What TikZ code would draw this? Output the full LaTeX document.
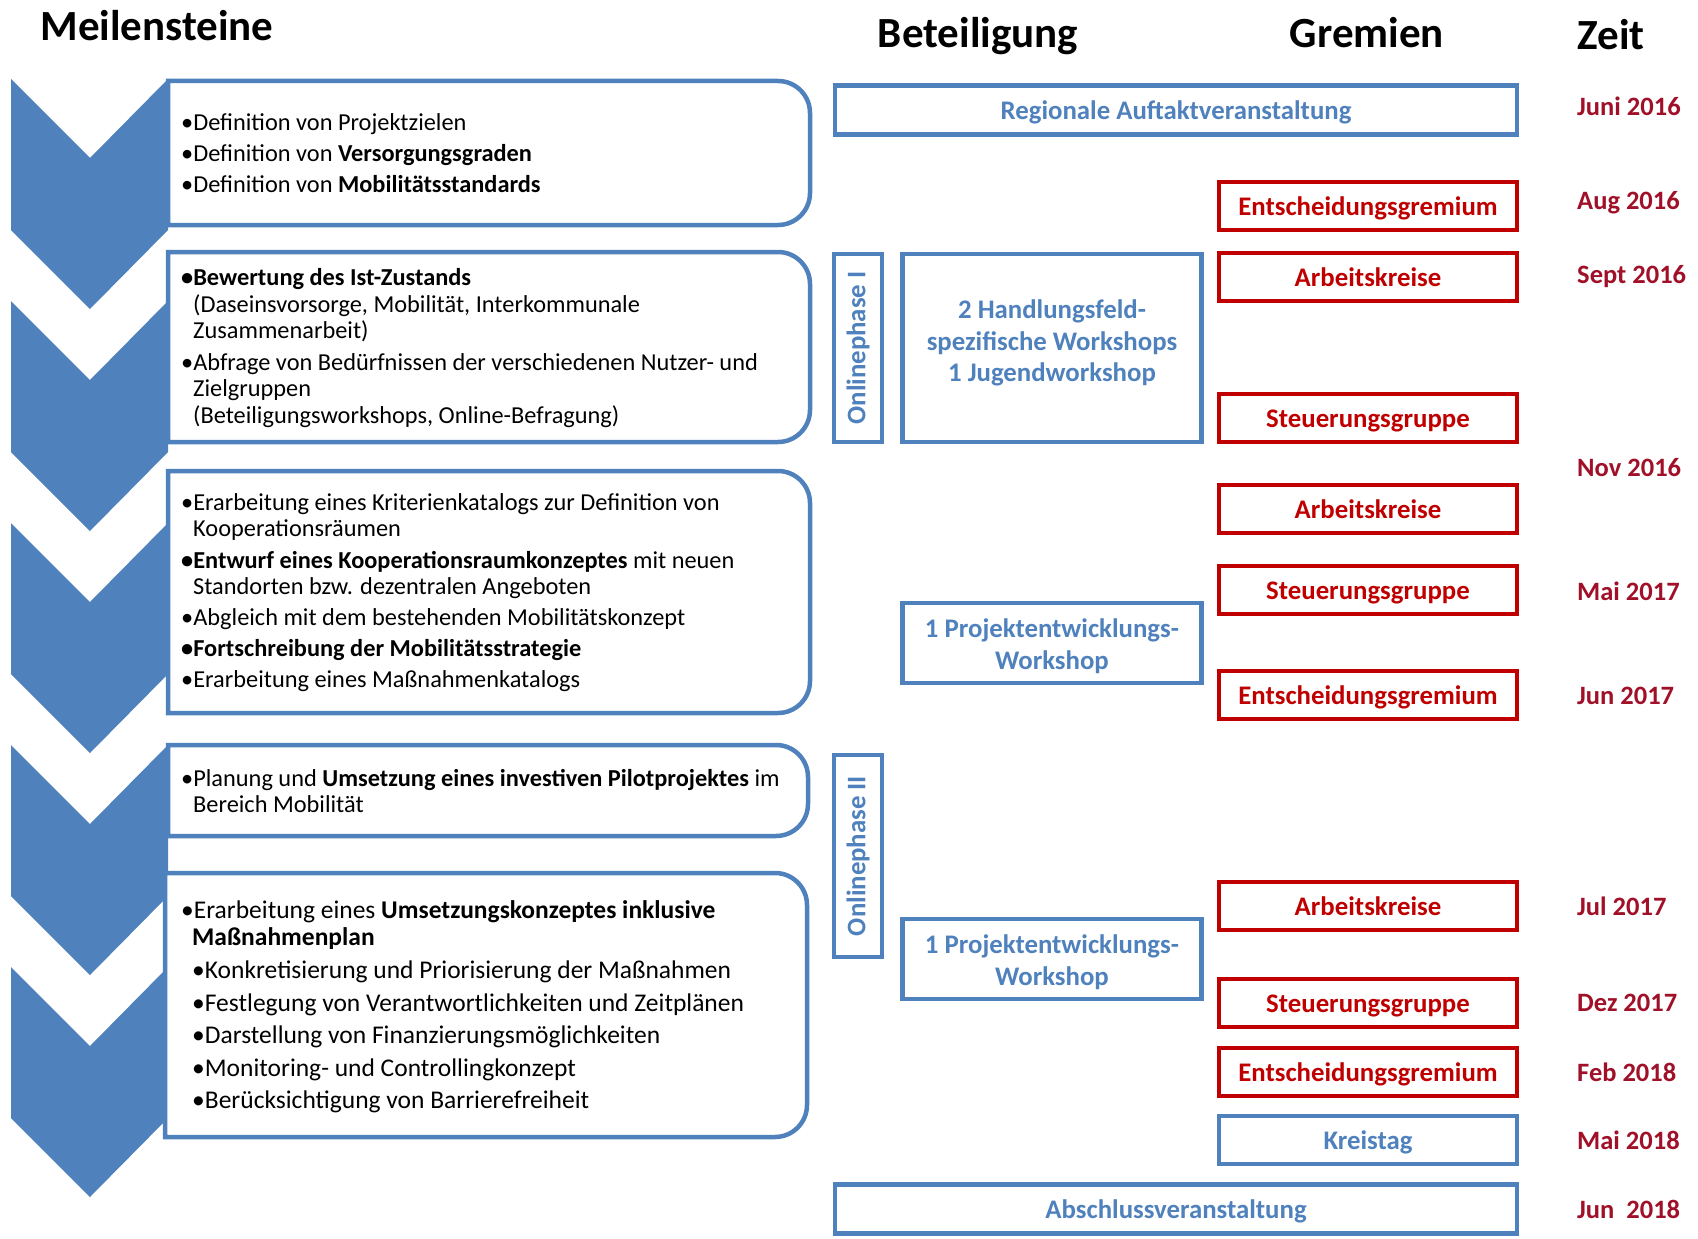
\documentclass[tikz,border=0pt]{standalone}
\usepackage{fontspec}
\setmainfont{Carlito}
\definecolor{cblue}{RGB}{79,129,189}
\definecolor{cred}{RGB}{192,0,0}
\definecolor{cdate}{RGB}{160,16,40}
\begin{document}
\begin{tikzpicture}[x=1pt,y=-1pt,
  head/.style={anchor=base,inner sep=0pt,font=\fontsize{43}{50}\selectfont\bfseries},
  ln/.style={anchor=base west,inner sep=0pt,font=\fontsize{24.35}{26}\selectfont},
  lnb/.style={anchor=base west,inner sep=0pt,font=\fontsize{25.5}{27}\selectfont},
  mbox/.style={draw=cblue,line width=4.5pt,fill=white,inner sep=0pt,align=center,text=cblue,
     font=\fontsize{26.8}{31.8}\selectfont\bfseries},
  one/.style={text height=19.5pt,text depth=0pt},
  mtext/.style={inner sep=0pt,align=center,text=cblue,font=\fontsize{26.8}{31.8}\selectfont\bfseries},
  rbox/.style={mbox,one,draw=cred,text=cred,minimum width=298,minimum height=48},
  kbox/.style={mbox,one,minimum width=298,minimum height=48},
  datum/.style={anchor=west,inner sep=0pt,text=cdate,font=\fontsize{26.5}{31.8}\selectfont\bfseries},
  lbox/.style={draw=cblue,line width=4.5pt,fill=white}
]
\useasboundingbox (0,0) rectangle (1698,1239);
\fill[white] (0,0) rectangle (1698,1239);

% headers
\node[head] (h1) at (157,41) {Meilensteine};
\node[head] (h2) at (978,48) {Beteiligung};
\node[head] (h3) at (1367,48) {Gremien};
\node[head] (h4) at (1611,50) {Zeit};

% chevrons
\foreach \y in {79,301,523,745,967}{
  \fill[cblue] (11,\y) -- (90,\y+79) -- (168,\y) -- (168,\y+151) -- (90,\y+230) -- (11,\y+151) -- cycle;
}

% left boxes
\draw[lbox] (489,81) [rounded corners=32] -- (810,81) -- (810,225) -- (489,225) [sharp corners] -- (168,225) -- (168,81) -- cycle;
\draw[lbox] (489,252) [rounded corners=32] -- (810,252) -- (810,442) -- (489,442) [sharp corners] -- (168,442) -- (168,252) -- cycle;
\draw[lbox] (489,471) [rounded corners=32] -- (810,471) -- (810,713) -- (489,713) [sharp corners] -- (168,713) -- (168,471) -- cycle;
\draw[lbox] (489,745) [rounded corners=32] -- (808,745) -- (808,836) -- (489,836) [sharp corners] -- (168,836) -- (168,745) -- cycle;
\draw[lbox] (489,873) [rounded corners=32] -- (807,873) -- (807,1137) -- (489,1137) [sharp corners] -- (165,1137) -- (165,873) -- cycle;

% box 1 text
\node[ln] (a1) at (181,130) {•Definition von Projektzielen};
\node[ln] (a2) at (181,161) {•Definition von \textbf{Versorgungsgraden}};
\node[ln] (a3) at (181,192) {•Definition von \textbf{Mobilitätsstandards}};
% box 2 text
\node[ln] (b1) at (181,285) {\textbf{•Bewertung des Ist-Zustands}};
\node[ln] (b2) at (193,312) {(Daseinsvorsorge, Mobilität, Interkommunale};
\node[ln] (b3) at (193,338) {Zusammenarbeit)};
\node[ln] (b4) at (181,370) {•Abfrage von Bedürfnissen der verschiedenen Nutzer- und};
\node[ln] (b5) at (193,396) {Zielgruppen};
\node[ln] (b6) at (193,423) {(Beteiligungsworkshops, Online-Befragung)};
% box 3 text
\node[ln] (c1) at (181,510) {•Erarbeitung eines Kriterienkatalogs zur Definition von};
\node[ln] (c2) at (193,536) {Kooperationsräumen};
\node[ln] (c3) at (181,568) {\textbf{•Entwurf eines Kooperationsraumkonzeptes} mit neuen};
\node[ln] (c4) at (193,594) {Standorten bzw. dezentralen Angeboten};
\node[ln] (c5) at (181,625) {•Abgleich mit dem bestehenden Mobilitätskonzept};
\node[ln] (c6) at (181,656) {\textbf{•Fortschreibung der Mobilitätsstrategie}};
\node[ln] (c7) at (181,687) {•Erarbeitung eines Maßnahmenkatalogs};
% box 4 text
\node[ln] (d1) at (181,786) {•Planung und \textbf{Umsetzung eines investiven Pilotprojektes} im};
\node[ln] (d2) at (193,812) {Bereich Mobilität};
% box 5 text
\node[lnb] (e1) at (181,918) {•Erarbeitung eines \textbf{Umsetzungskonzeptes inklusive}};
\node[lnb] (e2) at (192,945) {\textbf{Maßnahmenplan}};
\node[lnb] (e3) at (192,978) {•Konkretisierung und Priorisierung der Maßnahmen};
\node[lnb] (e4) at (192,1011) {•Festlegung von Verantwortlichkeiten und Zeitplänen};
\node[lnb] (e5) at (192,1043) {•Darstellung von Finanzierungsmöglichkeiten};
\node[lnb] (e6) at (192,1076) {•Monitoring- und Controllingkonzept};
\node[lnb] (e7) at (192,1108) {•Berücksichtigung von Barrierefreiheit};

% Beteiligung column
\node[mbox,one,minimum width=682,minimum height=49] (auftakt) at (1176,110) {Regionale Auftaktveranstaltung};
\node[mbox,rotate=90,minimum width=188,minimum height=48] (op1) at (858,348) {Onlinephase I};
\node[mbox,minimum width=299,minimum height=188] (hws) at (1052,348) {};
\node[mtext] (hwst) at (1052,343) {2 Handlungsfeld-\\spezifische Workshops\\1 Jugendworkshop};
\node[mbox,minimum width=299,minimum height=80] (pws1) at (1052,643) {};
\node[mtext] (pws1t) at (1052,646) {1 Projektentwicklungs-\\Workshop};
\node[mbox,rotate=90,minimum width=202,minimum height=48] (op2) at (858,856) {Onlinephase II};
\node[mbox,minimum width=299,minimum height=80] (pws2) at (1052,959) {};
\node[mtext] (pws2t) at (1052,962) {1 Projektentwicklungs-\\Workshop};
\node[mbox,one,minimum width=682,minimum height=49] (abschluss) at (1176,1209) {Abschlussveranstaltung};

% Gremien column
\node[rbox] (eg1) at (1368,206) {Entscheidungsgremium};
\node[rbox] (ak1) at (1368,277) {Arbeitskreise};
\node[rbox] (sg1) at (1368,418) {Steuerungsgruppe};
\node[rbox] (ak2) at (1368,509) {Arbeitskreise};
\node[rbox] (sg2) at (1368,590) {Steuerungsgruppe};
\node[rbox] (eg2) at (1368,695) {Entscheidungsgremium};
\node[rbox] (ak3) at (1368,906) {Arbeitskreise};
\node[rbox] (sg3) at (1368,1003) {Steuerungsgruppe};
\node[rbox] (eg3) at (1368,1072) {Entscheidungsgremium};
\node[kbox] (kt) at (1368,1140) {Kreistag};

% Zeit column
\node[datum] (z1) at (1577,106) {Juni 2016};
\node[datum] (z2) at (1577,203) {Aug 2016};
\node[datum] (z3) at (1577,277) {Sept 2016};
\node[datum] (z4) at (1577,468) {Nov 2016};
\node[datum] (z5) at (1577,591) {Mai 2017};
\node[datum] (z6) at (1577,696) {Jun 2017};
\node[datum] (z7) at (1577,906) {Jul 2017};
\node[datum] (z8) at (1577,1003) {Dez 2017};
\node[datum] (z9) at (1577,1072) {Feb 2018};
\node[datum] (z10) at (1577,1140) {Mai 2018};
\node[datum] (z11) at (1577,1209) {Jun\ \ 2018};
\end{tikzpicture}
\end{document}
